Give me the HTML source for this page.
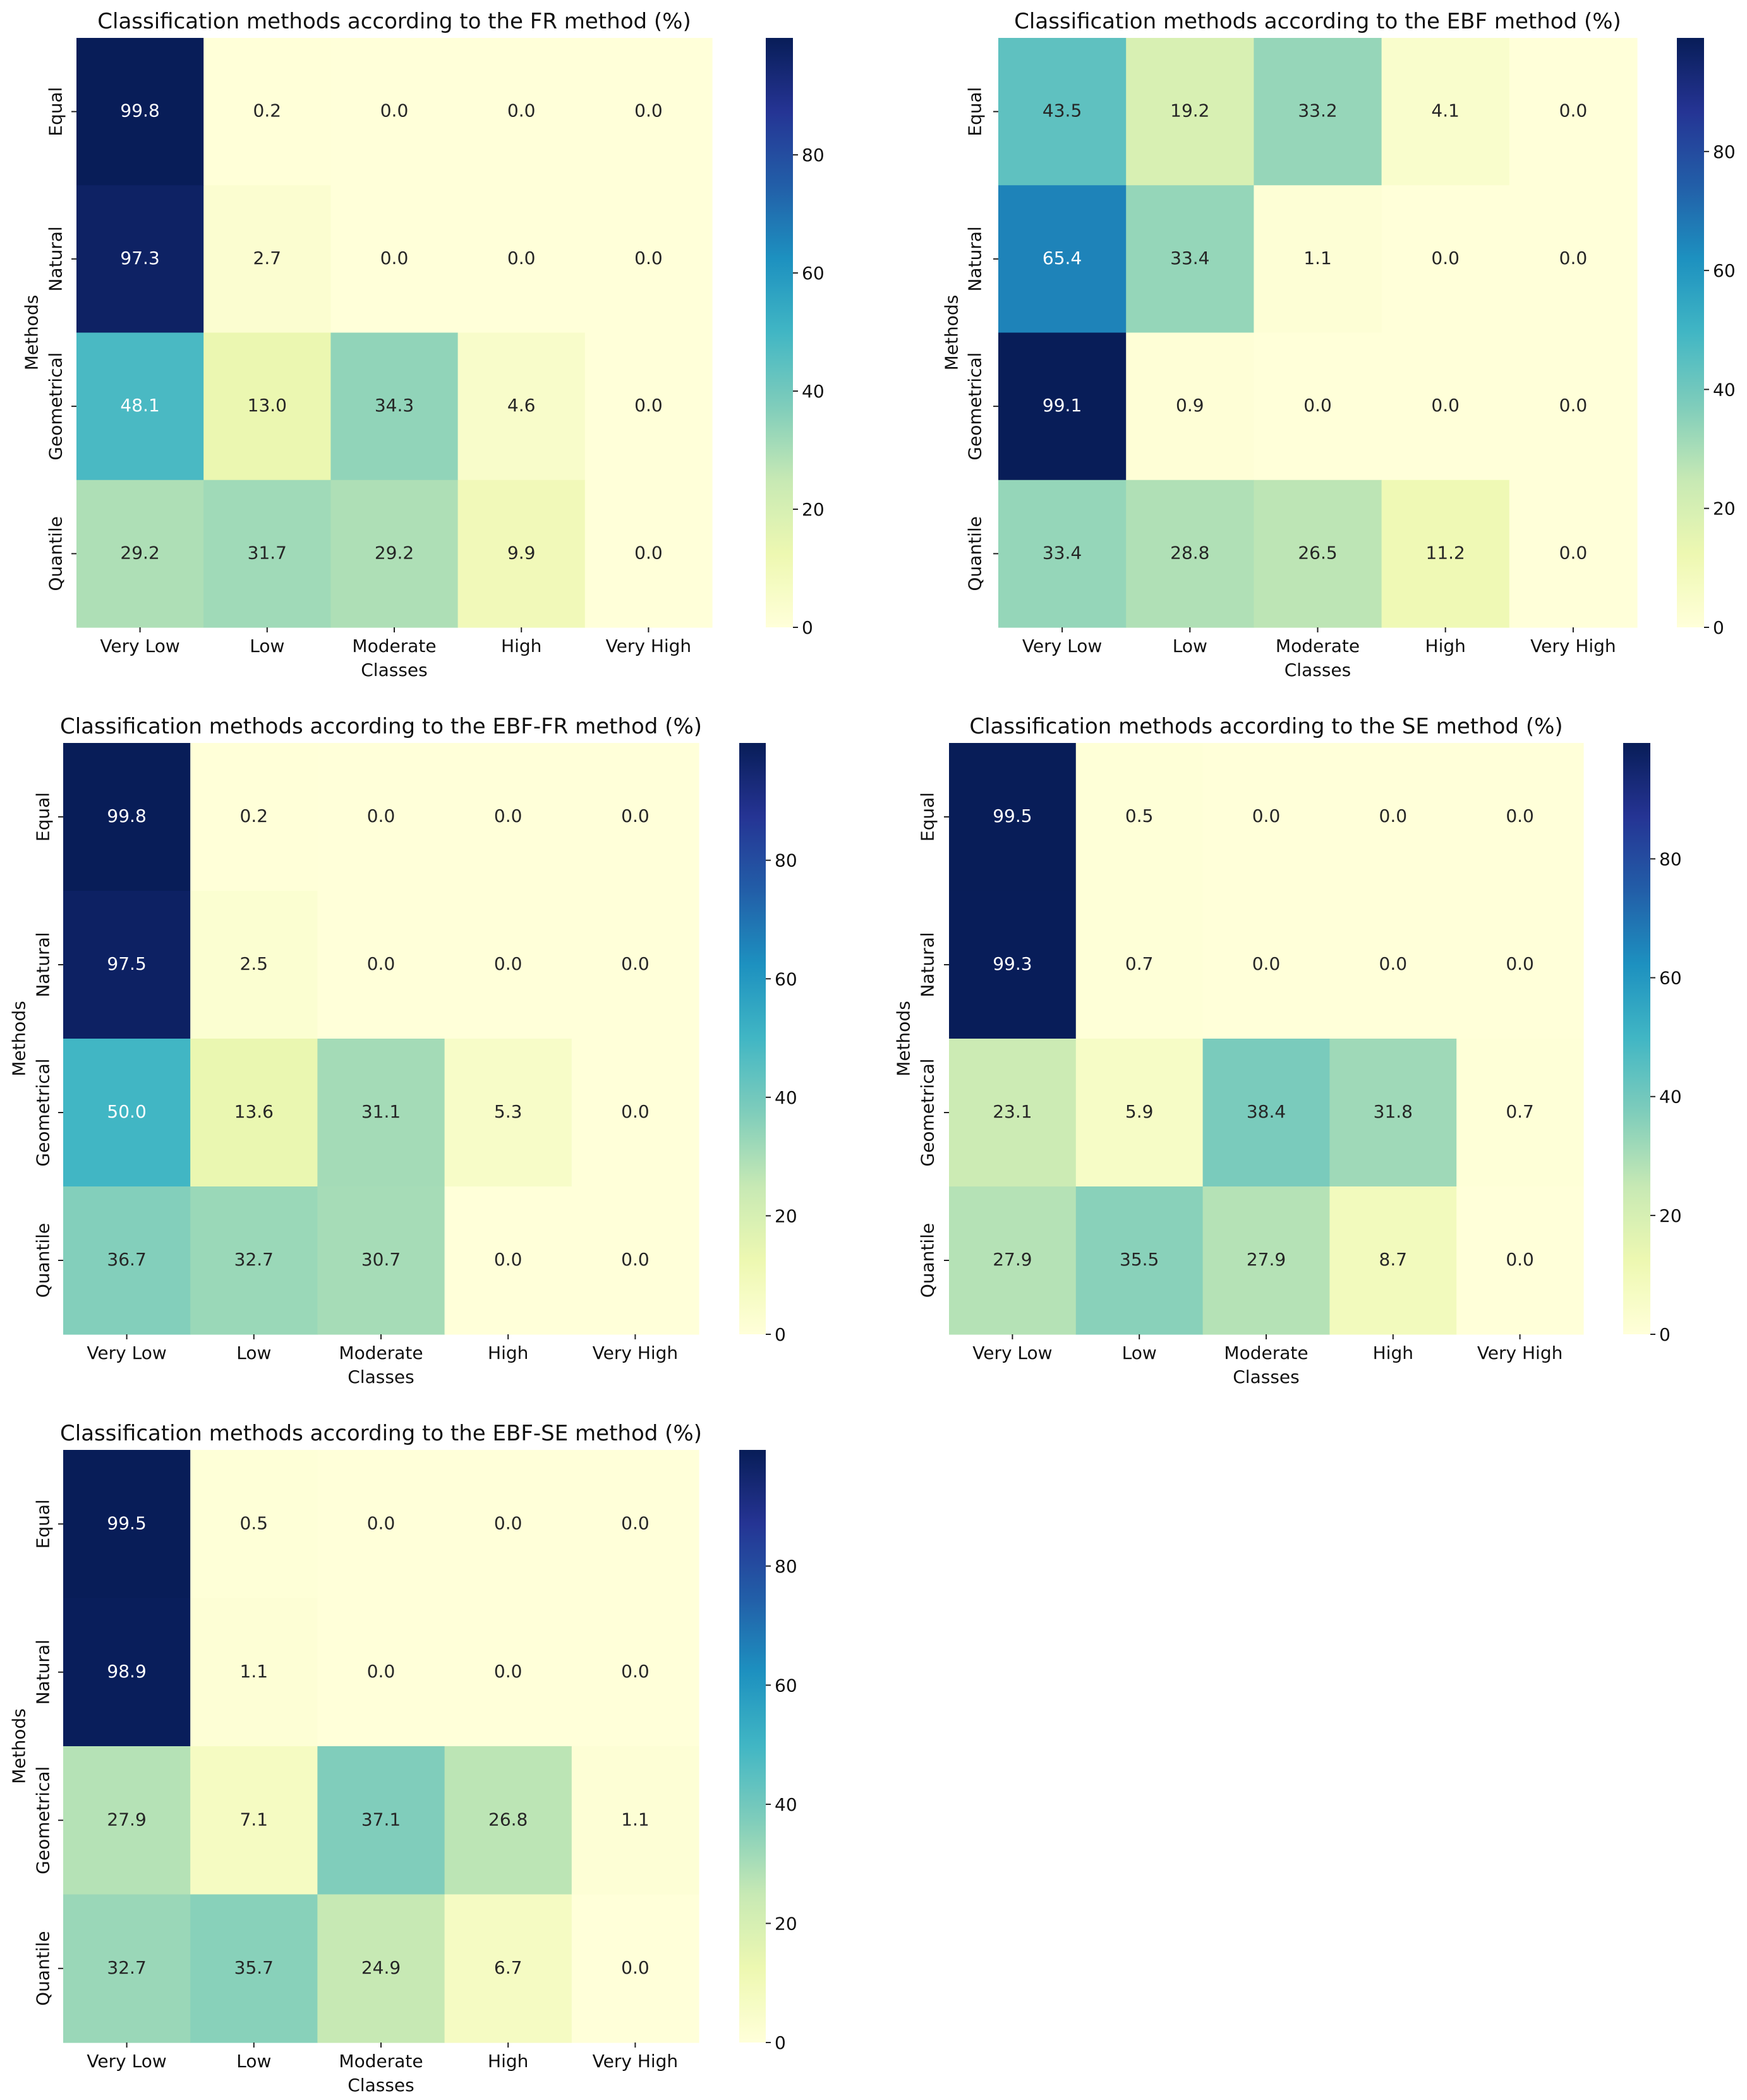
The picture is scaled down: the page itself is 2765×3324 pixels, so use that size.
<!DOCTYPE html>
<html><head><meta charset="utf-8"><style>
html,body{margin:0;padding:0;background:#fff}
svg{display:block;font-family:"DejaVu Sans","Liberation Sans",sans-serif}
</style></head><body>
<svg id="fig" width="2765" height="3324" viewBox="0 0 2765 3324" xmlns="http://www.w3.org/2000/svg"></svg>
<script>
const classes = ["Very Low","Low","Moderate","High","Very High"];
const methods = ["Equal","Natural","Geometrical","Quantile"];
const cbTicks = [0,20,40,60,80];
const frValues = [[99.8,0.2,0.0,0.0,0.0],[97.3,2.7,0.0,0.0,0.0],[48.1,13.0,34.3,4.6,0.0],[29.2,31.7,29.2,9.9,0.0]];
const ebfValues = [[43.5,19.2,33.2,4.1,0.0],[65.4,33.4,1.1,0.0,0.0],[99.1,0.9,0.0,0.0,0.0],[33.4,28.8,26.5,11.2,0.0]];
const ebfFrValues = [[99.8,0.2,0.0,0.0,0.0],[97.5,2.5,0.0,0.0,0.0],[50.0,13.6,31.1,5.3,0.0],[36.7,32.7,30.7,0.0,0.0]];
const seValues = [[99.5,0.5,0.0,0.0,0.0],[99.3,0.7,0.0,0.0,0.0],[23.1,5.9,38.4,31.8,0.7],[27.9,35.5,27.9,8.7,0.0]];
const ebfSeValues = [[99.5,0.5,0.0,0.0,0.0],[98.9,1.1,0.0,0.0,0.0],[27.9,7.1,37.1,26.8,1.1],[32.7,35.7,24.9,6.7,0.0]];
const titles = ["FR","EBF","EBF-FR","SE","EBF-SE"];

const layouts = [
 {key:"fr", vals:frValues, x0:121,y0:60,x1:1127,y1:993,cb0:1212,cb1:1255,mx:50,rx:88},
 {key:"ebf", vals:ebfValues, x0:1580,y0:60,x1:2591,y1:993,cb0:2654,cb1:2697,mx:1506,rx:1543},
 {key:"ebf-fr", vals:ebfFrValues, x0:100,y0:1176,x1:1106,y1:2112,cb0:1170,cb1:1212,mx:30,rx:68},
 {key:"se", vals:seValues, x0:1502,y0:1176,x1:2506,y1:2112,cb0:2569,cb1:2612,mx:1430,rx:1468},
 {key:"ebf-se", vals:ebfSeValues, x0:100,y0:2295,x1:1106,y1:3233,cb0:1170,cb1:1212,mx:30,rx:68}
];

const stops = ["#ffffd9","#edf8b1","#c7e9b4","#7fcdbb","#41b6c4","#1d91c0","#225ea8","#253494","#081d58"];
function hex(h){return [1,3,5].map(i=>parseInt(h.substr(i,2),16));}
const stopRGB = stops.map(hex);
function cmap(t){
  t=Math.max(0,Math.min(1,t));
  const p=t*(stopRGB.length-1); const i=Math.min(Math.floor(p),stopRGB.length-2); const f=p-i;
  return stopRGB[i].map((c,k)=>Math.round(c+(stopRGB[i+1][k]-c)*f));
}
function rgbStr(c){return `rgb(${c[0]},${c[1]},${c[2]})`;}
function lum(c){
  const l=c.map(v=>{v/=255;return v<=0.03928?v/12.92:Math.pow((v+0.055)/1.055,2.4);});
  return 0.2126*l[0]+0.7152*l[1]+0.0722*l[2];
}
const NS="http://www.w3.org/2000/svg";
const svg=document.getElementById('fig');
function mk(tag,attrs,parent){const e=document.createElementNS(NS,tag);for(const k in attrs)e.setAttribute(k,attrs[k]);(parent||svg).appendChild(e);return e;}
const defs=mk('defs',{});

layouts.forEach((L,pi)=>{
  const g=mk('g',{});
  
  
  const vals=L.vals;
  const vmax=Math.max(...vals.flat()); const vmin=0;
  const nC=classes.length, nR=methods.length;
  const cw=(L.x1-L.x0)/nC, ch=(L.y1-L.y0)/nR;
  const xScale=j=>L.x0+j*cw, yScale=i=>L.y0+i*ch;
  const cbY=v=>L.y1-(v-vmin)/(vmax-vmin)*(L.y1-L.y0);
  const t=mk('text',{x:(L.x0+L.x1)/2,y:L.y0-15,'text-anchor':'middle','font-size':34,fill:'#111'},g);
  t.textContent='Classification methods according to the '+titles[pi]+' method (%)';
  
  
  for(let i=0;i<nR;i++)for(let j=0;j<nC;j++){
    const v=vals[i][j]; const c=cmap((v-vmin)/(vmax-vmin));
    const r=mk('rect',{x:xScale(j),y:yScale(i),width:cw+0.6,height:ch+0.6,fill:rgbStr(c)},g);
    
    
  }
  for(let i=0;i<nR;i++)for(let j=0;j<nC;j++){
    const v=vals[i][j]; const c=cmap((v-vmin)/(vmax-vmin));
    const tx=mk('text',{x:xScale(j)+cw/2,y:yScale(i)+ch/2+8,'text-anchor':'middle','font-size':28,fill:lum(c)<0.408?'#fff':'#262626'},g);
    tx.textContent=v.toFixed(1);
    
    
  }
  classes.forEach((c,j)=>{
    const cx=xScale(j)+cw/2;
    mk('line',{x1:cx,x2:cx,y1:L.y1,y2:L.y1+8,stroke:'#222','stroke-width':2},g);
    const tl=mk('text',{x:cx,y:L.y1+39,'text-anchor':'middle','font-size':28,fill:'#111'},g);
    tl.textContent=c;
    
    
  });
  const xt=mk('text',{x:(L.x0+L.x1)/2,y:L.y1+77,'text-anchor':'middle','font-size':28,fill:'#111'},g);
  xt.textContent='Classes';
  
  
  methods.forEach((m,i)=>{
    const cy=yScale(i)+ch/2;
    mk('line',{x1:L.x0-8,x2:L.x0,y1:cy,y2:cy,stroke:'#222','stroke-width':2},g);
    const yl=mk('text',{x:L.rx,y:cy,'text-anchor':'middle','dominant-baseline':'central','font-size':28,fill:'#111',transform:`rotate(-90 ${L.rx} ${cy})`},g);
    yl.textContent=m;
    
    
  });
  const my=(L.y0+L.y1)/2;
  const yt=mk('text',{x:L.mx,y:my,'text-anchor':'middle','dominant-baseline':'central','font-size':28,fill:'#111',transform:`rotate(-90 ${L.mx} ${my})`},g);
  yt.textContent='Methods';
  
  
  const gid='grad'+pi;
  const lg=mk('linearGradient',{id:gid,x1:0,y1:1,x2:0,y2:0},defs);
  for(let k=0;k<=32;k++){mk('stop',{offset:k/32,'stop-color':rgbStr(cmap(k/32))},lg);}
  const cb=mk('rect',{x:L.cb0,y:L.y0,width:L.cb1-L.cb0,height:L.y1-L.y0,fill:`url(#${gid})`},g);
  
  
  cbTicks.forEach(v=>{
    const y=cbY(v);
    mk('line',{x1:L.cb1,x2:L.cb1+8,y1:y,y2:y,stroke:'#222','stroke-width':2},g);
    const cl=mk('text',{x:L.cb1+14,y:y+10,'font-size':28,fill:'#111'},g);
    cl.textContent=String(v);
    
    
  });
});
</script>
</body></html>
